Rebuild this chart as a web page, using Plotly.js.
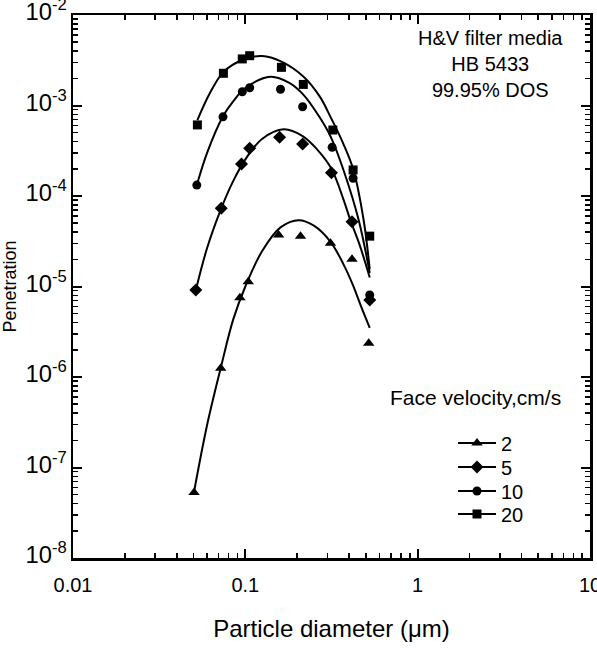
<!DOCTYPE html>
<html>
<head>
<meta charset="utf-8">
<script src="https://cdn.plot.ly/plotly-3.0.1.min.js"></script>
<style>
html,body{margin:0;padding:0;background:#fff;}
#chart{width:597px;height:649px;}
</style>
</head>
<body>
<div id="chart"></div>
<script>
// ---- measured points (particle diameter, um ; penetration) ----
const velocities = ['2', '5', '10', '20'];

const d2  = [0.0504, 0.072, 0.093, 0.104, 0.156, 0.209, 0.312, 0.416, 0.52];
const p2  = [5.3e-8, 1.25e-6, 7.5e-6, 1.13e-5, 3.7e-5, 3.6e-5, 3.0e-5, 2.0e-5, 2.36e-6];

const d5  = [0.0516, 0.0725, 0.095, 0.106, 0.158, 0.215, 0.316, 0.416, 0.527];
const p5  = [9.15e-6, 7.3e-5, 2.26e-4, 3.37e-4, 4.45e-4, 3.76e-4, 1.81e-4, 5.2e-5, 7.1e-6];

const d10 = [0.0523, 0.0742, 0.096, 0.106, 0.16, 0.215, 0.319, 0.422, 0.527];
const p10 = [1.32e-4, 7.5e-4, 1.42e-3, 1.57e-3, 1.51e-3, 9.7e-4, 3.45e-4, 1.57e-4, 8.05e-6];

const d20 = [0.0527, 0.0746, 0.096, 0.106, 0.162, 0.217, 0.322, 0.422, 0.527];
const p20 = [6.1e-4, 2.27e-3, 3.27e-3, 3.55e-3, 2.64e-3, 1.71e-3, 5.36e-4, 1.94e-4, 3.6e-5];

// ---- fitted curves ----
const cd2  = [0.0504, 0.06, 0.072, 0.085, 0.1, 0.125, 0.16, 0.204, 0.25, 0.313, 0.37, 0.42, 0.47, 0.527];
const cp2  = [5.4e-8, 2.95e-7, 1.26e-6, 4.3e-6, 1.0e-5, 2.45e-5, 4.5e-5, 5.4e-5, 4.7e-5, 3.1e-5, 1.78e-5, 1.05e-5, 6.0e-6, 3.5e-6];

const cd5  = [0.0516, 0.06, 0.0725, 0.085, 0.1, 0.125, 0.167, 0.215, 0.26, 0.316, 0.37, 0.407, 0.46, 0.527];
const cp5  = [9.1e-6, 2.66e-5, 7.3e-5, 1.46e-4, 2.54e-4, 4.27e-4, 5.46e-4, 4.6e-4, 3.3e-4, 2.0e-4, 9.3e-5, 5.4e-5, 2.9e-5, 1.26e-5];

const cd10 = [0.0523, 0.06, 0.0742, 0.085, 0.1, 0.14, 0.18, 0.217, 0.27, 0.313, 0.371, 0.455, 0.527];
const cp10 = [1.32e-4, 3.0e-4, 7.6e-4, 1.11e-3, 1.56e-3, 2.08e-3, 1.78e-3, 1.32e-3, 7.4e-4, 4.5e-4, 1.94e-4, 5.4e-5, 1.41e-5];

const cd20 = [0.0527, 0.062, 0.0746, 0.096, 0.125, 0.162, 0.217, 0.27, 0.313, 0.37, 0.424, 0.486, 0.527];
const cp20 = [6.9e-4, 1.35e-3, 2.34e-3, 3.18e-3, 3.52e-3, 3.05e-3, 2.09e-3, 1.26e-3, 7.4e-4, 3.8e-4, 1.94e-4, 5.4e-5, 1.55e-5];

// ---- axis tick labels ----
const xTickText = ['0.01', '0.1', '1', '10'];
const yExponents = [-8, -7, -6, -5, -4, -3, -2];
const yTickText = ['10<sup>-8</sup>', '10<sup>-7</sup>', '10<sup>-6</sup>', '10<sup>-5</sup>',
                   '10<sup>-4</sup>', '10<sup>-3</sup>', '10<sup>-2</sup>'];

const textLines = ['H&V filter media', 'HB 5433', '99.95% DOS'];
const legendTitle = 'Face velocity,cm/s';
const xTitle = 'Particle diameter (\u03bcm)';
const yTitle = 'Penetration';

// map Plotly's default power labels (U+2212 minus) onto the reference's text
const yAlias = {};
yExponents.forEach((e, i) => {
  yAlias['10<sup>\u2212' + Math.abs(e) + '</sup>'] = yTickText[i];
});

const symbols = ['triangle-up', 'diamond', 'circle', 'square'];
const sizes = [10, 10, 9, 9];
const legendIds = ['legend', 'legend2', 'legend3', 'legend4'];
const pts = [[d2, p2], [d5, p5], [d10, p10], [d20, p20]];
const curves = [[cd2, cp2], [cd5, cp5], [cd10, cp10], [cd20, cp20]];

const FONT = 'Liberation Sans, Arial, Helvetica, sans-serif';
const traces = [];
velocities.forEach((v, i) => {
  traces.push({
    x: curves[i][0], y: curves[i][1], mode: 'lines', type: 'scatter',
    line: {color: '#000', width: 2, shape: 'spline', smoothing: 1},
    showlegend: false, hoverinfo: 'skip', legendgroup: v
  });
  traces.push({
    x: pts[i][0], y: pts[i][1], mode: 'markers', type: 'scatter',
    marker: {symbol: symbols[i], size: sizes[i], color: '#000'},
    showlegend: false, name: v, legendgroup: v
  });
  traces.push({
    x: [null], y: [null], mode: 'lines+markers', type: 'scatter',
    line: {color: '#000', width: 2},
    marker: {symbol: symbols[i], size: sizes[i], color: '#000'},
    name: v, legendgroup: v, showlegend: true, legend: legendIds[i]
  });
});

function makeAxis(extra) {
  return Object.assign({
    type: 'log', showgrid: false, zeroline: false,
    showline: true, linecolor: '#000', linewidth: 2.5, mirror: 'allticks',
    ticks: 'inside', ticklen: 9, tickwidth: 2, tickcolor: '#000',
    tickmode: 'linear', tick0: 0, dtick: 1,
    ticklabeloverflow: 'allow',
    minor: {dtick: 'D1', ticks: 'inside', ticklen: 5, tickwidth: 1.5, tickcolor: '#000', showgrid: false},
    tickfont: {family: FONT, size: 20, color: '#000'}
  }, extra);
}

const rowY = [0.2118, 0.1676, 0.1234, 0.0810];
function makeLegend(y) {
  return {
    x: 0.735, xanchor: 'left', y: y, yanchor: 'middle',
    bgcolor: 'rgba(0,0,0,0)', borderwidth: 0,
    font: {family: FONT, size: 20, color: '#000'},
    itemwidth: 38, tracegroupgap: 0
  };
}

const layout = {
  width: 597, height: 649,
  margin: {l: 73, r: 7, t: 15, b: 91},
  paper_bgcolor: '#fff', plot_bgcolor: '#fff',
  font: {family: FONT, color: '#000'},
  xaxis: makeAxis({
    range: [-2, 1],
    exponentformat: 'none',
    ticklabelstandoff: 7,
    title: {text: xTitle, font: {family: FONT, size: 24, color: '#000'}, standoff: 26}
  }),
  yaxis: makeAxis({
    range: [-8, -2],
    exponentformat: 'power',
    labelalias: yAlias,
    ticklabelshift: -3,
    tickfont: {family: FONT, size: 19, color: '#000'},
    title: {text: yTitle, font: {family: FONT, size: 18, color: '#000'}, standoff: 6}
  }),
  showlegend: true,
  legend: makeLegend(rowY[0]),
  legend2: makeLegend(rowY[1]),
  legend3: makeLegend(rowY[2]),
  legend4: makeLegend(rowY[3]),
  annotations: [
    {xref: 'paper', yref: 'paper', x: 0.807, y: 0.9098, xanchor: 'center', yanchor: 'middle',
     text: textLines.join('<br>'), showarrow: false, align: 'center',
     font: {family: FONT, size: 20, color: '#000'}},
    {xref: 'paper', yref: 'paper', x: 0.778, y: 0.2947, xanchor: 'center', yanchor: 'middle',
     text: legendTitle, showarrow: false,
     font: {family: FONT, size: 21, color: '#000'}}
  ]
};

Plotly.newPlot('chart', traces, layout, {displayModeBar: false, staticPlot: true});
</script>
</body>
</html>
